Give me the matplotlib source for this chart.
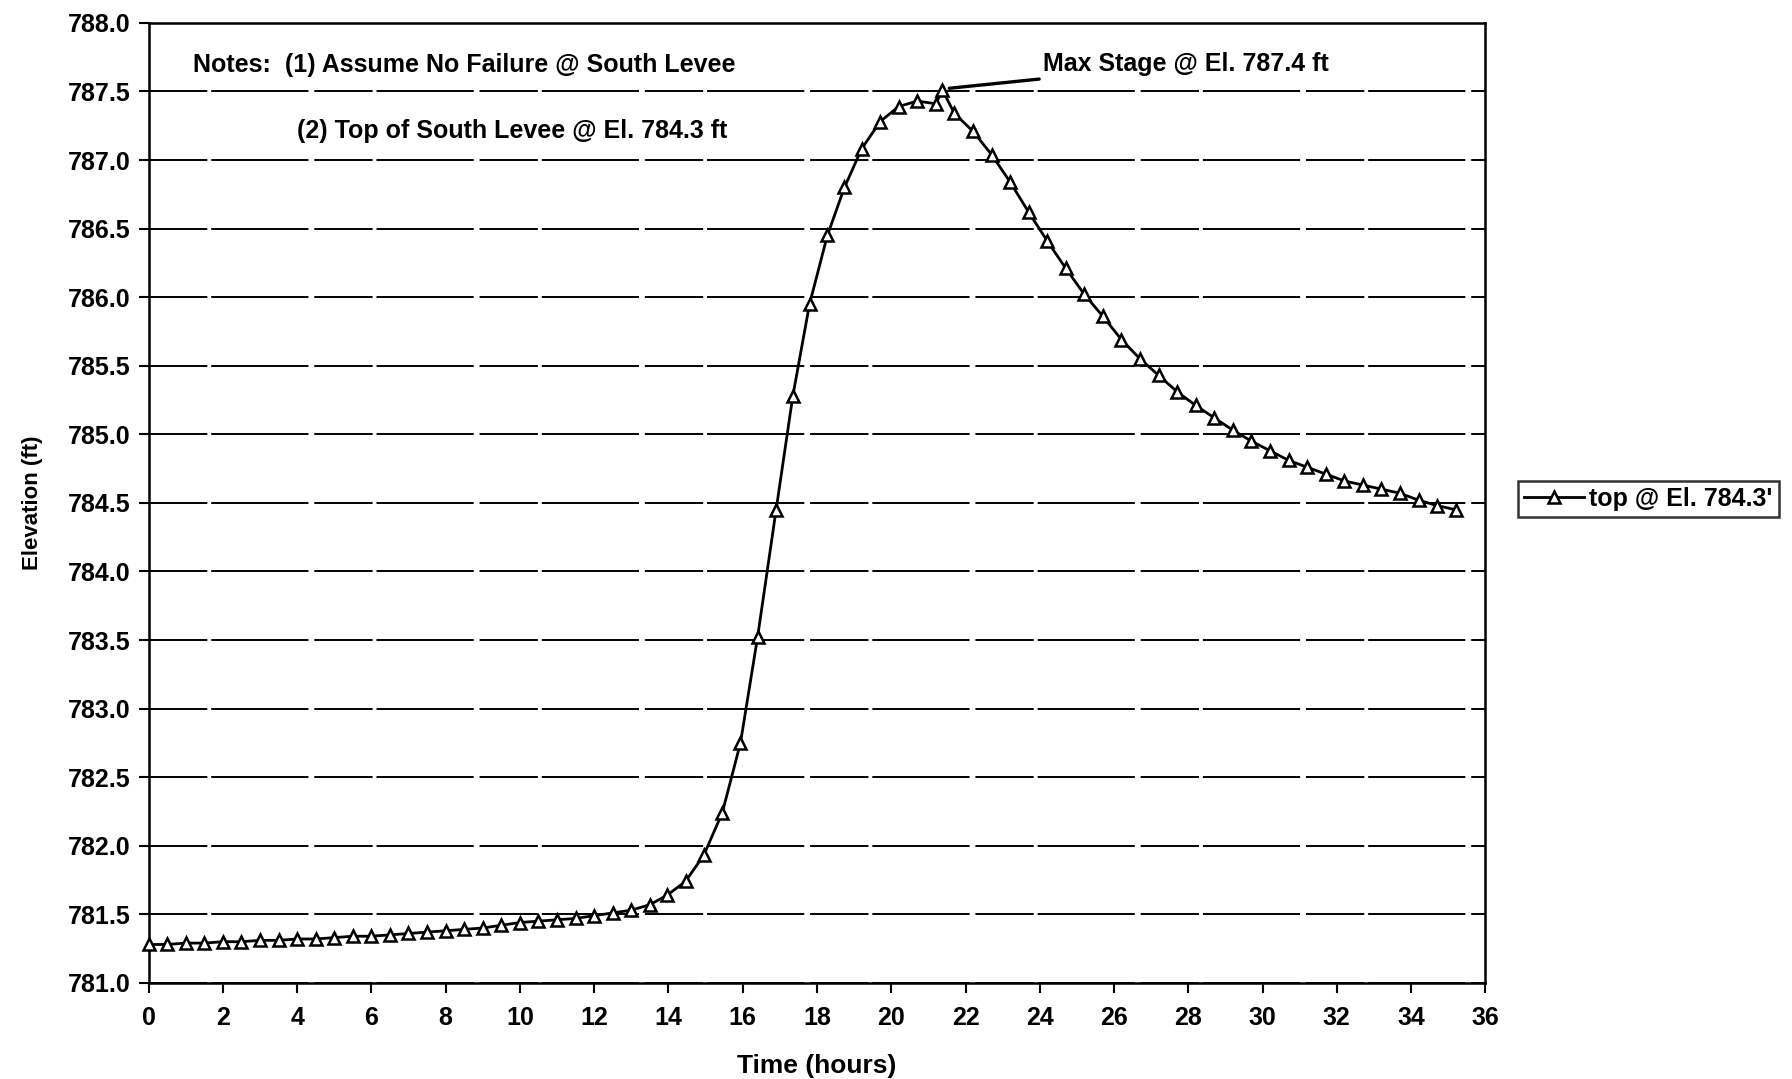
import numpy as np
import matplotlib.pyplot as plt
from matplotlib.ticker import FormatStrFormatter, MultipleLocator

# time (hours)
hours = [0.0, 0.5, 1.0, 1.5, 2.0, 2.5, 3.0, 3.5, 4.0, 4.5, 5.0, 5.5, 6.0, 6.5,
         7.0, 7.5, 8.0, 8.5, 9.0, 9.5, 10.0, 10.5, 11.0, 11.5, 12.0, 12.5, 13.0, 13.5,
         13.97, 14.46, 14.95, 15.45, 15.94, 16.4, 16.9, 17.35, 17.8, 18.28, 18.74,
         19.2, 19.7, 20.2, 20.7, 21.2, 21.38, 21.7, 22.2, 22.7, 23.2, 23.7, 24.2,
         24.7, 25.2, 25.7, 26.2, 26.7, 27.2, 27.7, 28.2, 28.7, 29.2, 29.7, 30.2,
         30.7, 31.2, 31.7, 32.2, 32.7, 33.2, 33.7, 34.2, 34.7, 35.2]

# water surface elevation (ft)
elev = [781.28, 781.28, 781.29, 781.29, 781.30, 781.30, 781.31, 781.31, 781.32,
        781.32, 781.33, 781.34, 781.34, 781.35, 781.36, 781.37, 781.38, 781.39,
        781.40, 781.42, 781.44, 781.45, 781.46, 781.47, 781.49, 781.51, 781.53,
        781.57, 781.64, 781.74, 781.93, 782.24, 782.75, 783.52, 784.45, 785.28,
        785.95, 786.45, 786.80, 787.08, 787.28, 787.39, 787.43, 787.41, 787.51,
        787.34, 787.21, 787.04, 786.84, 786.62, 786.41, 786.21, 786.02, 785.86,
        785.69, 785.55, 785.43, 785.31, 785.21, 785.12, 785.03, 784.95, 784.88,
        784.81, 784.76, 784.71, 784.66, 784.63, 784.60, 784.57, 784.52, 784.48,
        784.45]

series_label = "top @ El. 784.3'"
notes = ["Notes:  (1) Assume No Failure @ South Levee",
         "(2) Top of South Levee @ El. 784.3 ft"]
max_label = "Max Stage @ El. 787.4 ft"

plt.rcParams['font.family'] = ['Liberation Sans', 'DejaVu Sans']
plt.rcParams['font.weight'] = 'bold'

fig = plt.figure(figsize=(17.92, 10.79), dpi=100)
ax = fig.add_axes([0.0829, 0.0891, 0.746, 0.8897])

ax.plot(hours, elev, color='black', lw=2.0, marker='^', markersize=9,
        markerfacecolor='white', markeredgecolor='black', markeredgewidth=1.8,
        label=series_label, zorder=3, clip_on=False)

ax.set_xlim(0, 36)
ax.set_ylim(781.0, 788.0)
ax.xaxis.set_major_locator(MultipleLocator(2))
ax.yaxis.set_major_locator(MultipleLocator(0.5))
ax.yaxis.set_major_formatter(FormatStrFormatter('%.1f'))
ax.grid(axis='y', color='black', lw=1.4, dashes=(30, 2, 50, 3))
ax.set_axisbelow(True)

for s in ax.spines.values():
    s.set_linewidth(1.8)
ax.tick_params(direction='out', length=7, width=1.5, labelsize=18, pad=6)
ax.tick_params(axis='x', pad=10)
for lab in ax.get_xticklabels() + ax.get_yticklabels():
    lab.set_fontweight('bold')

ax.set_xlabel("Time (hours)", fontsize=19, fontweight='bold', labelpad=17)
ax.set_ylabel("Elevation (ft)", fontsize=16, fontweight='bold', labelpad=18)

ax.text(1.2, 787.69, notes[0], fontsize=18, fontweight='bold', va='center')
ax.text(4.0, 787.21, notes[1], fontsize=18, fontweight='bold', va='center')

ax.annotate(max_label, xy=(21.45, 787.52), xytext=(24.1, 787.7),
            fontsize=18, fontweight='bold', va='center',
            arrowprops=dict(arrowstyle='-', color='black', lw=2.4,
                            shrinkA=2, shrinkB=3))

leg = fig.legend(loc='center left', bbox_to_anchor=(0.847, 0.5375),
                 fontsize=18, frameon=True, fancybox=False,
                 handlelength=2.4, handletextpad=0.2, borderpad=0.25,
                 borderaxespad=0)
leg.get_frame().set_edgecolor('black')
leg.get_frame().set_linewidth(1.8)

fig.savefig('out.png', dpi=100)
